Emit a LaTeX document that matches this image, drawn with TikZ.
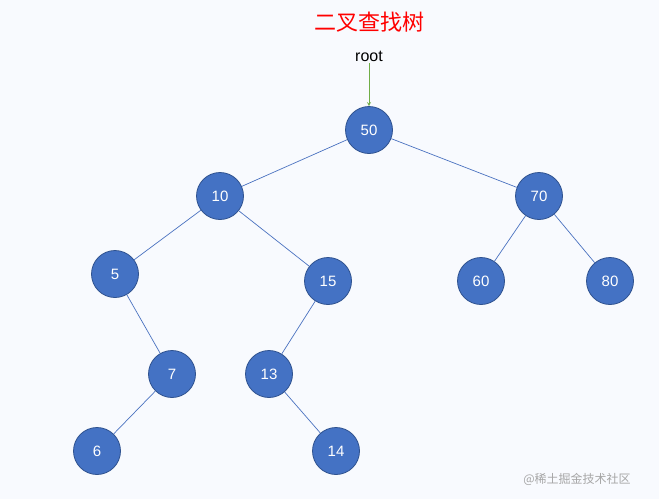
\documentclass[tikz,border=0pt]{standalone}
\usepackage{fontspec}
\setmainfont{Liberation Sans}
\newfontfamily\cjk{Noto Sans CJK SC}
\definecolor{bg}{HTML}{F8FAFE}
\definecolor{nodefill}{HTML}{4472C4}
\definecolor{nodeedge}{HTML}{2F528F}
\definecolor{edgecol}{HTML}{4A72C0}
\definecolor{arrcol}{HTML}{70AD47}
\begin{document}
\begin{tikzpicture}[x=1pt,y=-1pt,
  tn/.style={circle,fill=nodefill,draw=nodeedge,line width=0.8pt,minimum size=47pt,inner sep=0pt,text=white,font=\fontsize{15}{15}\selectfont},
  ed/.style={draw=edgecol,line width=0.7pt}]
\fill[bg] (0,0) rectangle (659,499);
\useasboundingbox (0,0) rectangle (659,499);
\node[text=red,font=\cjk\fontsize{22}{22}\selectfont] (title) at (369,22) {二叉查找树};
\node[font=\fontsize{16}{16}\selectfont,inner sep=2pt] (root) at (369,56) {root};
\node[tn] (n50) at (369,130) {50};
\node[tn] (n10) at (220,196) {10};
\node[tn] (n70) at (539,196) {70};
\node[tn] (n5) at (115,274) {5};
\node[tn] (n15) at (328,281) {15};
\node[tn] (n60) at (481,281) {60};
\node[tn] (n80) at (610,281) {80};
\node[tn] (n7) at (172,374) {7};
\node[tn] (n13) at (269,374) {13};
\node[tn] (n6) at (97,451) {6};
\node[tn] (n14) at (336,451) {14};
\draw[->,>=stealth,draw=arrcol,line width=0.8pt] (root) -- (n50);
\foreach \a/\b in {n50/n10,n50/n70,n10/n5,n10/n15,n70/n60,n70/n80,n5/n7,n15/n13,n7/n6,n13/n14}
  \draw[ed] (\a) -- (\b);
\node[text=gray!70,font=\cjk\fontsize{12}{12}\selectfont] (wm) at (577,479) {@稀土掘金技术社区};
\end{tikzpicture}
\end{document}
